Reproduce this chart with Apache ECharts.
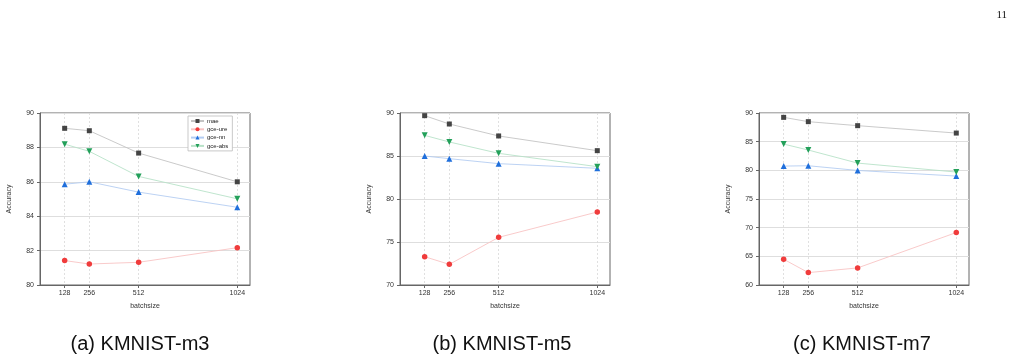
<!DOCTYPE html>
<html>
<head>
<meta charset="utf-8">
<script src="https://cdn.jsdelivr.net/npm/echarts@6/dist/echarts.min.js"></script>
<style>
  html, body { margin: 0; padding: 0; background: #fff; }
  #chart { width: 1018px; height: 360px; }
</style>
</head>
<body>
<div id="chart"></div>
<script>
  // x 轴: batchsize
  const batchSizes = [128, 256, 512, 1024]
  const seriesNames = ['mae', 'gce-ure', 'gce-nn', 'gce-abs']

  // KMNIST-m3
  const m3Mae = [89.11, 88.97, 87.67, 86.0]
  const m3Ure = [81.42, 81.22, 81.32, 82.17]
  const m3Nn = [85.86, 86.0, 85.4, 84.52]
  const m3Abs = [88.19, 87.77, 86.31, 85.01]

  // KMNIST-m5
  const m5Mae = [89.69, 88.72, 87.33, 85.62]
  const m5Ure = [73.29, 72.4, 75.54, 78.49]
  const m5Nn = [85.0, 84.69, 84.11, 83.57]
  const m5Abs = [87.4, 86.63, 85.31, 83.76]

  // KMNIST-m7
  const m7Mae = [89.24, 88.49, 87.79, 86.5]
  const m7Ure = [64.49, 62.16, 62.98, 69.15]
  const m7Nn = [80.74, 80.8, 79.98, 79.0]
  const m7Abs = [84.58, 83.54, 81.26, 79.7]

  const captions = ['(a) KMNIST-m3', '(b) KMNIST-m5', '(c) KMNIST-m7']
  const yRanges = [[80, 90, 2], [70, 90, 5], [60, 90, 5]]
  const panels = [
    [m3Mae, m3Ure, m3Nn, m3Abs],
    [m5Mae, m5Ure, m5Nn, m5Abs],
    [m7Mae, m7Ure, m7Nn, m7Abs]
  ]

  // 样式
  const gridLeft = [40, 400, 759]
  const captionCenter = [140, 502, 862]
  const markerColors = ['#444444', '#f03c3c', '#1f6fdc', '#23a05a']
  const lineColors = ['#c4c4c4', '#f8c4c4', '#b4cdf2', '#b8e2c8']
  const symbols = ['rect', 'circle', 'triangle', 'triangle']
  const rotates = [0, 0, 0, 180]
  const sizes = [5, 5.5, 6, 6]

  let grids = [], xAxes = [], yAxes = [], series = []
  panels.forEach((panel, p) => {
    grids.push({
      left: gridLeft[p], top: 113, width: 210, height: 172,
      show: true, borderColor: '#666', borderWidth: 1
    })
    xAxes.push({
      gridIndex: p,
      type: 'value',
      min: 0,
      max: 1090,
      name: 'batchsize',
      nameLocation: 'middle',
      nameGap: 18,
      nameTextStyle: { fontSize: 7, color: '#333', fontFamily: 'Liberation Sans' },
      axisLine: { show: true, lineStyle: { color: '#666', width: 1 } },
      axisTick: { show: true, length: 3, customValues: batchSizes, lineStyle: { color: '#666' } },
      axisLabel: {
        fontSize: 7, color: '#333', margin: 5, customValues: batchSizes,
        fontFamily: 'Liberation Sans',
        formatter: v => String(v)
      },
      splitLine: { show: true, lineStyle: { color: '#d8d8d8', type: [2, 2], width: 0.8 } }
    })
    yAxes.push({
      gridIndex: p,
      type: 'value',
      min: yRanges[p][0],
      max: yRanges[p][1],
      interval: yRanges[p][2],
      name: 'Accuracy',
      nameLocation: 'middle',
      nameGap: 27,
      nameTextStyle: { fontSize: 7, color: '#333', fontFamily: 'Liberation Sans' },
      axisLine: { show: true, lineStyle: { color: '#666', width: 1 } },
      axisTick: { show: true, length: 3, lineStyle: { color: '#666' } },
      axisLabel: { fontSize: 7, color: '#333', margin: 6, fontFamily: 'Liberation Sans' },
      splitLine: { show: true, lineStyle: { color: '#dedede', width: 1.2 } }
    })
    panel.forEach((vals, s) => {
      series.push({
        name: seriesNames[s],
        type: 'line',
        xAxisIndex: p,
        yAxisIndex: p,
        data: batchSizes.map((b, i) => [b, vals[i]]),
        symbol: symbols[s],
        symbolRotate: rotates[s],
        symbolSize: sizes[s],
        showAllSymbol: true,
        lineStyle: { color: lineColors[s], width: 0.9 },
        itemStyle: { color: markerColors[s] },
        emphasis: { disabled: true },
        animation: false
      })
    })
  })

  let myChart = echarts.init(document.getElementById('chart'))
  myChart.setOption({
    animation: false,
    grid: grids,
    xAxis: xAxes,
    yAxis: yAxes,
    legend: {
      data: seriesNames,
      orient: 'vertical',
      left: 188,
      top: 116,
      padding: [2, 4, 2, 2],
      itemWidth: 13,
      itemHeight: 5,
      itemGap: 2.3,
      borderColor: '#bbb',
      borderWidth: 0.8,
      backgroundColor: '#fff',
      textStyle: { fontSize: 6, color: '#222', fontFamily: 'Liberation Sans', padding: [0, 0, 0, -2] }
    },
    title: captions.map((c, p) => ({
      text: c,
      left: captionCenter[p],
      top: 334,
      padding: 0,
      textAlign: 'center',
      textStyle: { fontSize: 20, fontWeight: 'normal', color: '#111', fontFamily: 'Liberation Sans' }
    })).concat([{
      text: '11',
      right: 6,
      top: 5,
      textStyle: { fontSize: 11, fontWeight: 'normal', color: '#111', fontFamily: 'Liberation Serif' }
    }]),
    series: series
  })
</script>
</body>
</html>
